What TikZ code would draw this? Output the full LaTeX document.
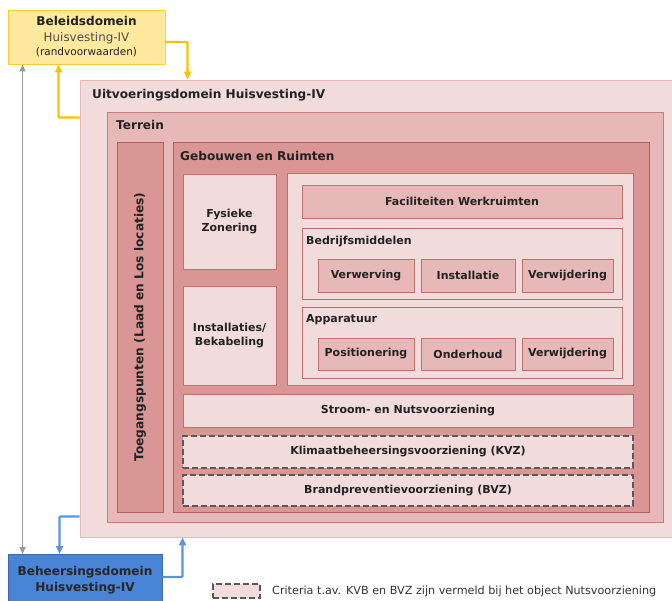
\documentclass[tikz,border=0pt]{standalone}
\usepackage{fontspec}
\setmainfont{DejaVu Sans}
\usepackage{tikz}
\usetikzlibrary{arrows.meta,calc}
\tikzset{>={Triangle[width=7pt,length=8pt]}}
\definecolor{paleRose}{HTML}{F2DCDB}
\definecolor{midRose}{HTML}{E6B9B8}
\definecolor{deepRose}{HTML}{D99694}
\definecolor{roseLine}{HTML}{C0706E}
\definecolor{darkRose}{HTML}{B35F5D}
\definecolor{gold}{HTML}{FFC000}
\definecolor{paleGold}{HTML}{FFE99F}
\definecolor{skyblue}{HTML}{4A84D6}
\definecolor{lineblue}{HTML}{5A94DE}
\definecolor{ink}{HTML}{222222}

\begin{document}
\begin{tikzpicture}[x=1pt, y=-1pt,
  box/.style={draw, rectangle, inner sep=0pt, line width=0.9pt, text=ink, align=center},
  pale/.style={box, fill=paleRose, draw=roseLine},
  mid/.style={box, fill=midRose, draw=roseLine},
  deep/.style={box, fill=deepRose, draw=darkRose},
  dashbox/.style={box, fill=paleRose, draw=black!65, line width=1.3pt, dash pattern=on 6pt off 3pt},
  title/.style={anchor=west, inner sep=0pt, text=ink, font=\bfseries\fontsize{12.1}{14}\selectfont},
  small/.style={font=\bfseries\fontsize{11}{14}\selectfont},
  flow/.style={->, line width=2.2pt, rounded corners=1pt}]

  \clip (0,0) rectangle (672,601);

  \node[box, fill=paleGold, draw=gold!80, minimum width=157, minimum height=54,
    font=\fontsize{11.9}{15}\selectfont] (beleid) at (86.5,37)
    {{\bfseries\fontsize{12.1}{15}\selectfont Beleidsdomein}\\[1pt]
     {\color{black!70}Huisvesting-IV}\\[-1pt]
     {\fontsize{10.5}{15}\selectfont (randvoorwaarden)}};

  \node[box, fill=paleRose, draw=midRose, minimum width=610, minimum height=457] (uitv) at (385,308.5) {};
  \node[title] (uitvtitle) at (92,95) {Uitvoeringsdomein Huisvesting-IV};

  \node[mid, draw=darkRose!80, minimum width=556, minimum height=410] (terrein) at (385,317) {};
  \node[title] (terreintitle) at (116,125) {Terrein};

  \node[deep, minimum width=46, minimum height=370] (toeg) at (140,327) {};
  \node[rotate=90, text=ink, font=\bfseries\fontsize{12.2}{14}\selectfont] (toegtitle) at (140,327)
    {Toegangspunten (Laad en Los locaties)};

  \node[deep, minimum width=476, minimum height=370] (gebouw) at (411,327) {};
  \node[title] (gebouwtitle) at (180,156) {Gebouwen en Ruimten};

  \node[pale, small, minimum width=93, minimum height=95] (fysiek) at (229.5,221.5) {Fysieke\\Zonering};
  \node[pale, small, minimum width=93, minimum height=99] (install) at (229.5,335.5) {Installaties/\\Bekabeling};

  \node[pale, minimum width=346, minimum height=212] (inner) at (460,279) {};
  \node[mid, small, minimum width=320, minimum height=33] (facil) at (462,201.5) {Faciliteiten Werkruimten};

  \node[pale, minimum width=320, minimum height=71] (bedrijf) at (462,263.5) {};
  \node[title, small] (bedrijftitle) at (306,242) {Bedrijfsmiddelen};
  \node[mid, small, minimum width=96, minimum height=33] (verwerv) at (366,275.5) {Verwerving};
  \node[mid, small, minimum width=94, minimum height=33] (installatie) at (468,275.5) {Installatie};
  \node[mid, small, minimum width=91, minimum height=33] (verwijdA) at (567.5,275.5) {Verwijdering};

  \node[pale, minimum width=320, minimum height=71] (appar) at (462,342.5) {};
  \node[title, small] (appartitle) at (306,320) {Apparatuur};
  \node[mid, small, minimum width=96, minimum height=32] (posit) at (366,354) {Positionering};
  \node[mid, small, minimum width=94, minimum height=32] (onderh) at (468,354) {Onderhoud};
  \node[mid, small, minimum width=91, minimum height=32] (verwijdB) at (567.5,354) {Verwijdering};

  \node[pale, small, minimum width=450, minimum height=33] (stroom) at (408,410.5) {Stroom- en Nutsvoorziening};
  \node[dashbox, small, minimum width=450, minimum height=32] (kvz) at (408,452) {Klimaatbeheersingsvoorziening (KVZ)};
  \node[dashbox, small, minimum width=450, minimum height=31] (bvz) at (408,490.5) {Brandpreventievoorziening (BVZ)};

  \node[box, fill=skyblue, draw=skyblue!80!black, minimum width=154, minimum height=51,
    font=\bfseries\fontsize{12.1}{15}\selectfont, text=black!85] (beheer) at (85,580)
    {Beheersingsdomein\\[1pt]Huisvesting-IV};

  \node[dashbox, minimum width=47, minimum height=14] (legend) at (236.5,591) {};
  \node[anchor=west, inner sep=0pt, text=black!80, font=\fontsize{11.2}{13}\selectfont] (legendtext) at (272,591)
    {Criteria t.av. KVB en BVZ zijn vermeld bij het object Nutsvoorziening};

  \draw[<->, black!40, line width=1.3pt, >={Triangle[width=6pt,length=7pt]}]
    ($(beleid.south west)+(15,0)$) -- ($(beheer.north west)+(15,0)$);
  \draw[flow, gold] ($(beleid.east)+(0,5)$) -| ($(uitv.north west)+(108,0)$);
  \draw[flow, gold] ($(uitv.north west)+(0,38)$) -| ($(beleid.south west)+(51,0)$);
  \draw[flow, lineblue] ($(uitv.south west)+(0,-21)$) -| ($(beheer.north west)+(52,0)$);
  \draw[flow, lineblue] ($(beheer.east)+(0,-3)$) -| ($(uitv.south west)+(103,0)$);

\end{tikzpicture}
\end{document}
